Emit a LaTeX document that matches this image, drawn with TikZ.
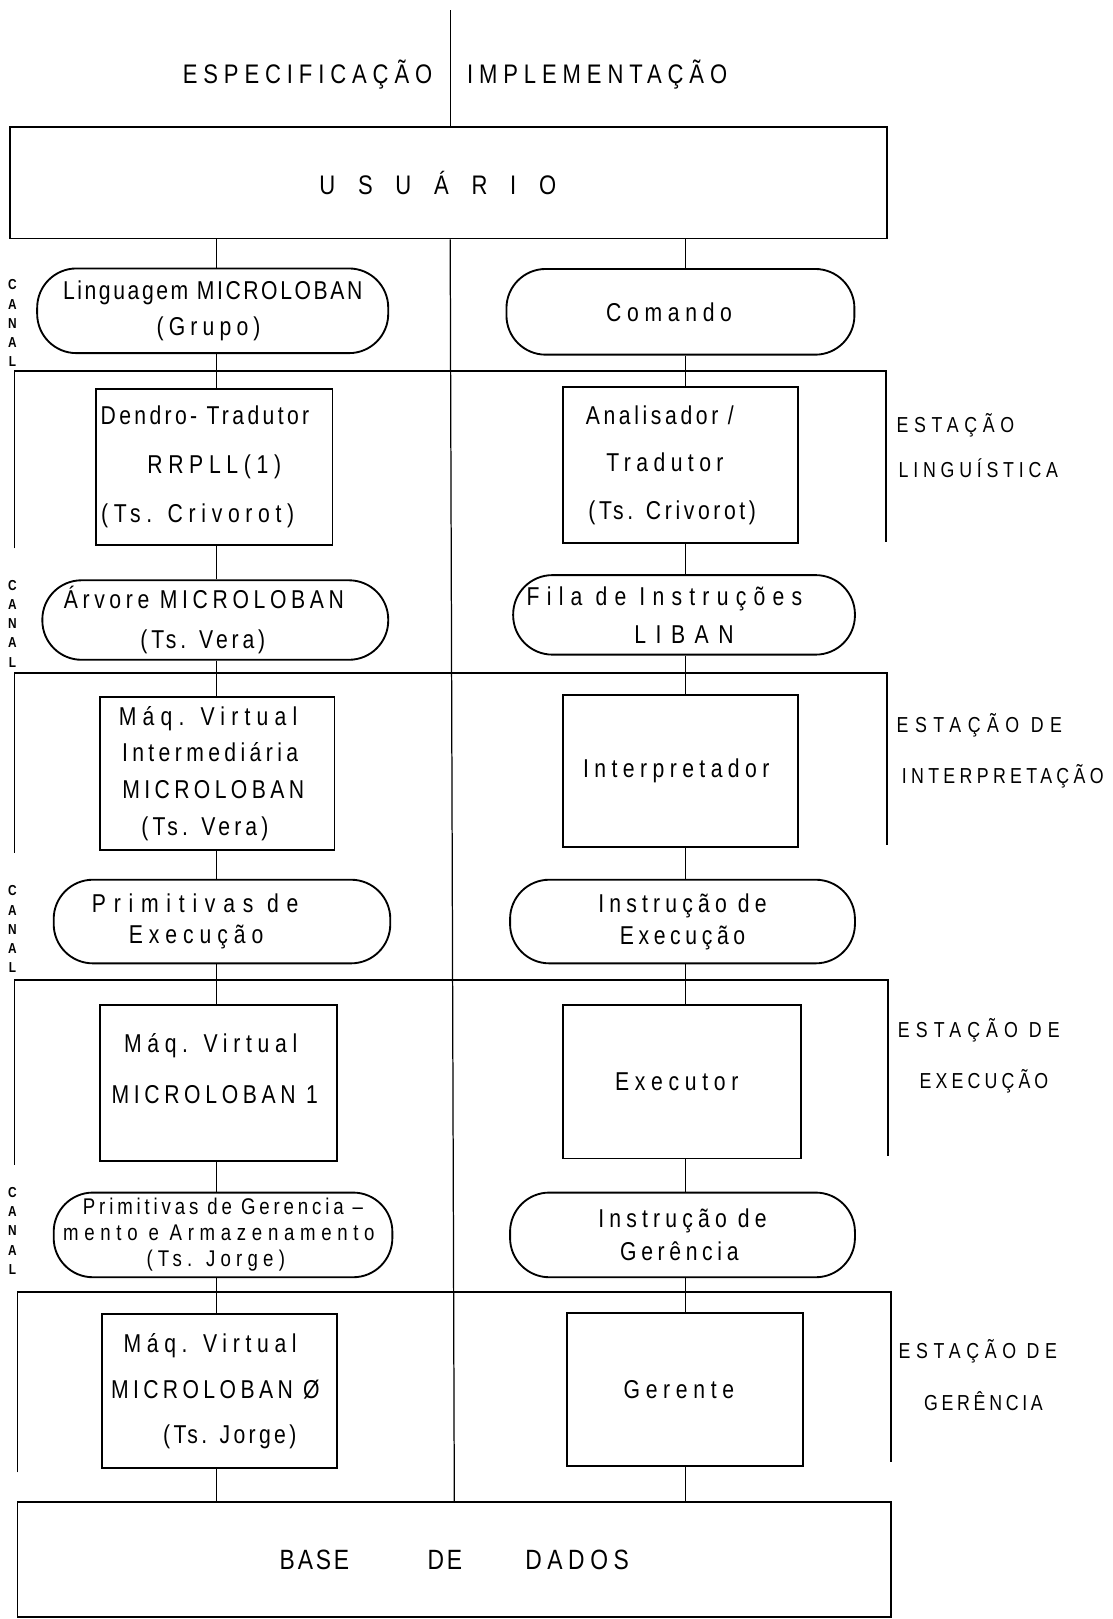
\documentclass[tikz,border=0pt]{standalone}
\usepackage{fontspec}
\setmainfont{Liberation Sans}[FakeStretch=0.82]
% tracking for lettering-guide style text
\newcommand\trk[1]{\addfontfeature{LetterSpace=#1}}
\begin{document}
\begin{tikzpicture}[x=0.5pt,y=-0.5pt,
  box/.style={draw, line width=0.9pt, inner sep=0pt},
  pill/.style={box, rounded corners=19pt},
  wire/.style={line width=0.6pt},
  frame/.style={line width=0.8pt},
  lbl/.style={inner sep=0pt, align=center, font=\fontsize{12.5}{#1}\selectfont},
  lbl/.default=15,
  big/.style={inner sep=0pt, align=center, font=\fontsize{13}{15}\selectfont},
  sta/.style={inner sep=0pt, font=\fontsize{10.5}{#1}\selectfont},
  canal/.style={inner sep=0pt, align=center, font=\fontsize{7}{9.3}\selectfont\bfseries}]
\useasboundingbox (0,0) rectangle (1077,1568);

% column positions of the vertical links
\coordinate (colL) at (210,0);
\coordinate (colR) at (664,0);
\coordinate (ctop) at (436,10);
\coordinate (cbot) at (440,0);

% header
\node[big, anchor=east] (spec) at (419,72) {\trk{22}ESPECIFICAÇÃO};
\node[big, anchor=west] (impl) at (452,72) {\trk{22}IMPLEMENTAÇÃO};

% user and data base
\node[box, minimum width=424.5pt, minimum height=54pt] (usr) at (434.5,177) {};
\node[big] (usrt) at (424,177) {\trk{62}U S U Á R I O};
\node[box, minimum width=423pt, minimum height=55.5pt, inner sep=0pt,
      font=\fontsize{13.5}{16}\selectfont] (base) at (440,1510.5)
  {{\trk{10}BASE}\kern38pt{\trk{10}DE}\kern30.6pt{\trk{20}DADOS}};

% station frames
\draw[frame] (14,531) coordinate (f1a) -- (14,359) coordinate (f1b) -- (858,359) coordinate (f1c) -- (858,525) coordinate (f1d);
\draw[frame] (14,826) coordinate (f2a) -- (14,652) coordinate (f2b) -- (859,652) coordinate (f2c) -- (859,818) coordinate (f2d);
\draw[frame] (14,1128) coordinate (f3a) -- (14,949) coordinate (f3b) -- (860,949) coordinate (f3c) -- (860,1120) coordinate (f3d);
\draw[frame] (17,1426) coordinate (f4a) -- (17,1251) coordinate (f4b) -- (863,1251) coordinate (f4c) -- (863,1416) coordinate (f4d);

% channels (left: specification, right: implementation)
\node[pill, minimum width=170pt, minimum height=41pt, lbl=17.5] (p1l) at (206,301)
  {{\trk{10}Linguagem MICROLOBAN}\\{\trk{20}(Grupo)}\kern4pt};
\node[pill, minimum width=168.5pt, minimum height=41.5pt, lbl] (p1r) at (659,302)
  {{\trk{22}Comando}\kern11pt};
\node[pill, minimum width=167.5pt, minimum height=38.5pt, lbl=19.5] (p2l) at (208.5,600.5)
  {{\trk{18}Árvore MICROLOBAN}\kern11pt\\{\trk{15}(Ts. Vera)}\kern12pt};
\node[pill, minimum width=165.5pt, minimum height=38.5pt, lbl=18.5] (p2r) at (662.5,595.5)
  {{\trk{28}Fila de Instruções}\kern19pt\\{\trk{14}L I B A N}};
\node[pill, minimum width=163pt, minimum height=40.5pt, lbl=15] (p3l) at (215,892.5)
  {{\trk{30}Primitivas de}\kern26pt\\{\trk{23}Execução}\kern25pt};
\node[pill, minimum width=167pt, minimum height=40.5pt, lbl=15.5] (p3r) at (661,892.5)
  {{\trk{20}Instrução de}\\{\trk{18}Execução}};
\node[pill, minimum width=164pt, minimum height=41pt, inner sep=0pt, align=center,
      font=\fontsize{11}{12.5}\selectfont] (p4l) at (216,1196)
  {{\trk{17}Primitivas de Gerencia –}\\{\trk{25}mento e Armazenamento}\kern4pt\\{\trk{23}(Ts. Jorge)}\kern7pt};
\node[pill, minimum width=167pt, minimum height=41pt, lbl=16] (p4r) at (661,1196)
  {{\trk{20}Instrução de}\\{\trk{18}Gerência}\kern3pt};

% stations
\node[box, minimum width=114.5pt, minimum height=75.5pt, lbl=23.75] (b1l) at (207.5,452.5)
  {{\trk{13}Dendro- Tradutor}\kern9pt\\{\trk{22}RRPLL(1)}\\{\trk{22}(Ts. Crivorot)}\kern16pt};
\node[box, minimum width=114pt, minimum height=75.5pt, lbl=23] (b1r) at (659,450.5)
  {{\trk{14}Analisador /}\kern20pt\\{\trk{21}Tradutor}\kern15pt\\{\trk{14}(Ts. Crivorot)}\kern8pt};
\node[box, minimum width=113.5pt, minimum height=74pt, lbl=17.7] (b2l) at (210.5,749)
  {{\trk{24}Máq. Virtual}\kern9pt\\{\trk{17}Intermediária}\kern7pt\\{\trk{17}MICROLOBAN}\kern4pt\\{\trk{16}(Ts. Vera)}\kern12pt};
\node[box, minimum width=114pt, minimum height=73.5pt, lbl] (b2r) at (659,746.5)
  {{\trk{21}Interpretador}\kern4pt};
\node[box, minimum width=114.5pt, minimum height=75.5pt] (b3l) at (211.5,1048.5) {};
\node[lbl=25] (b3lt) at (210,1035)
  {{\trk{22}Máq. Virtual}\kern6pt\\{\trk{18}MICROLOBAN 1}\kern2pt};
\node[box, minimum width=115.5pt, minimum height=74.5pt, lbl] (b3r) at (660.5,1047.5)
  {{\trk{22}Executor}\kern5pt};
\node[box, minimum width=113.5pt, minimum height=74.5pt, lbl=22] (b4l) at (212.5,1347.5)
  {{\trk{22}Máq. Virtual}\kern9pt\\{\trk{17}MICROLOBAN Ø}\kern4pt\\\kern10pt{\trk{13}(Ts. Jorge)}};
\node[box, minimum width=114.5pt, minimum height=74pt, lbl] (b4r) at (663.5,1346)
  {{\trk{22}Gerente}\kern6pt};

% vertical links
\foreach \a/\b in {usr/p1l, p1l/b1l, b1l/p2l, p2l/b2l, b2l/p3l, p3l/b3l, b3l/p4l, p4l/b4l, b4l/base}
  \draw[wire] (\a.south -| colL) -- (\b.north -| colL);
\foreach \a/\b in {usr/p1r, p1r/b1r, b1r/p2r, p2r/b2r, b2r/p3r, p3r/b3r, b3r/p4r, p4r/b4r, b4r/base}
  \draw[wire] (\a.south -| colR) -- (\b.north -| colR);

% dividing line between specification and implementation
\draw[wire] (ctop) -- (ctop |- usr.north);
\draw[wire] (usr.south -| ctop) -- (base.north -| cbot);

% channel markers
\node[canal] (c1) at (12,313) {C\\A\\N\\A\\L};
\node[canal] (c2) at (12,604) {C\\A\\N\\A\\L};
\node[canal] (c3) at (12,900) {C\\A\\N\\A\\L};
\node[canal] (c4) at (12,1192) {C\\A\\N\\A\\L};

% station names
\node[sta=21.5, align=left, anchor=west] (st1) at (868,431.5)
  {{\trk{26}ESTAÇÃO}\\\kern1pt{\trk{22}LINGUÍSTICA}};
\node[sta=25, align=left, anchor=west] (st2) at (868,727)
  {{\trk{30}ESTAÇÃO DE}\\\kern2.5pt{\trk{20}INTERPRETAÇÃO}};
\node[sta=24.5, align=center] (st3) at (948,1022.5)
  {{\trk{28}ESTAÇÃO DE}\\\kern5pt{\trk{19}EXECUÇÃO}};
\node[sta=25, align=center] (st4) at (947,1332)
  {{\trk{26}ESTAÇÃO DE}\\\kern5.5pt{\trk{17}GERÊNCIA}};
\end{tikzpicture}
\end{document}
